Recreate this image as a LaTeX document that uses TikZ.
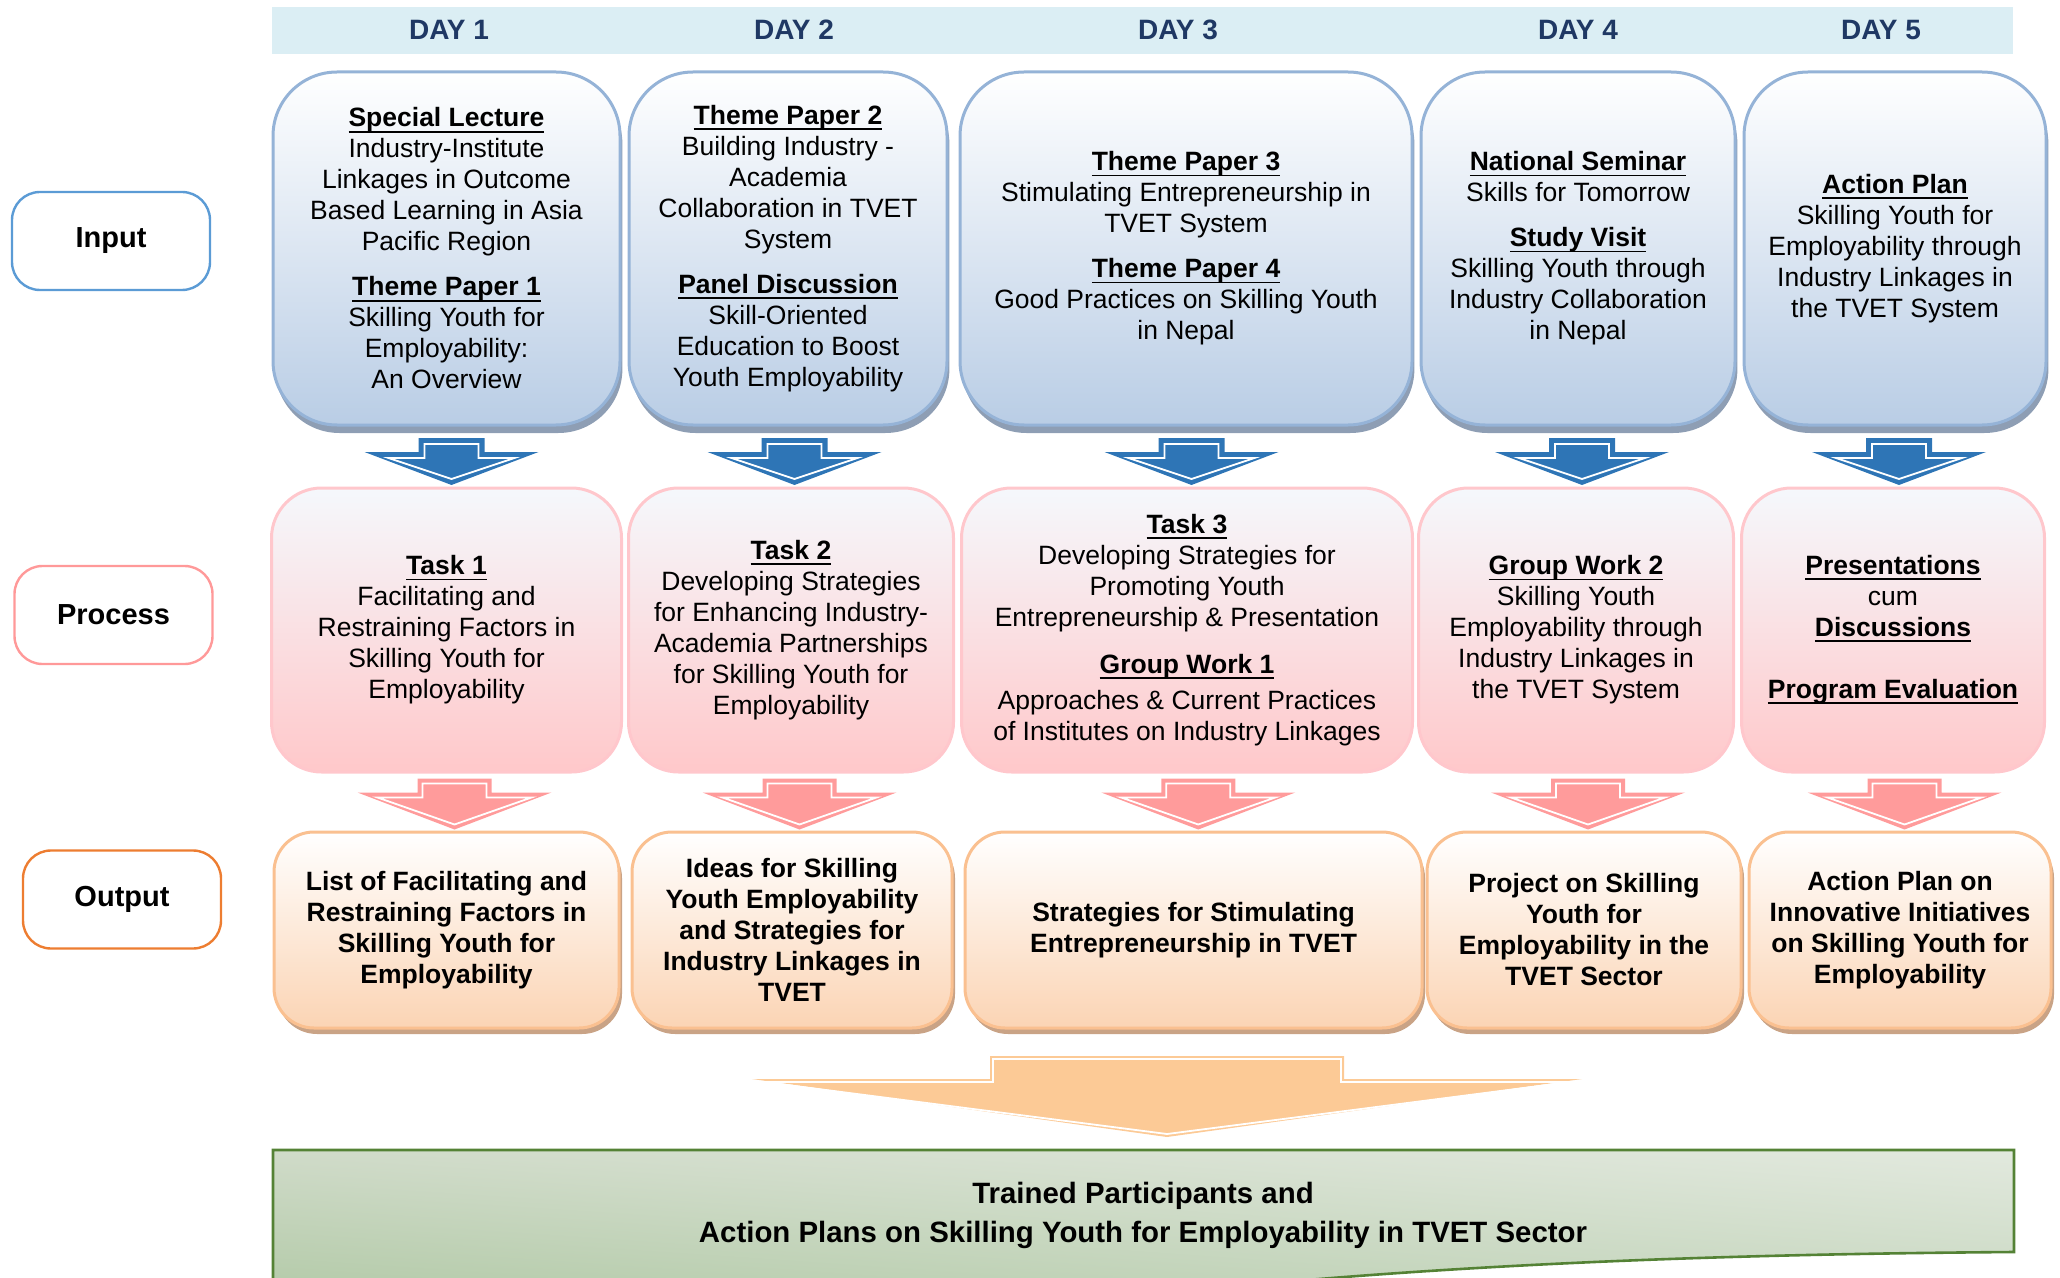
\documentclass[tikz,border=0pt]{standalone}
\usepackage{fontspec}
\setmainfont{Liberation Sans}
\usetikzlibrary{positioning,calc,shadows,shadings}

\definecolor{dayBand}{RGB}{219,238,244}
\definecolor{dayText}{RGB}{31,56,100}
\definecolor{lblIn}{RGB}{91,155,213}
\definecolor{lblPr}{RGB}{255,153,153}
\definecolor{lblOut}{RGB}{237,125,49}
\definecolor{inEdge}{RGB}{149,179,215}
\definecolor{inFill}{RGB}{185,205,229}
\definecolor{inShade}{RGB}{142,158,180}
\definecolor{prEdge}{RGB}{255,199,204}
\definecolor{prTop}{RGB}{245,248,252}
\definecolor{prFill}{RGB}{255,200,202}
\definecolor{outEdge}{RGB}{250,192,144}
\definecolor{outFill}{RGB}{251,212,180}
\definecolor{outShade}{RGB}{201,163,134}
\definecolor{arrBlue}{RGB}{46,117,182}
\definecolor{arrPink}{RGB}{255,155,155}
\definecolor{arrPeach}{RGB}{252,202,150}
\definecolor{goalEdge}{RGB}{84,130,53}
\definecolor{goalUL}{RGB}{208,219,201}
\definecolor{goalUR}{RGB}{226,233,222}
\definecolor{goalLL}{RGB}{172,198,160}
\definecolor{goalLR}{RGB}{196,213,188}

\newsavebox{\hdbox}
\newcommand{\hd}[1]{\sbox{\hdbox}{\textbf{#1}}\rlap{\rule[-2.8pt]{\wd\hdbox}{0.95pt}}\usebox{\hdbox}}

\begin{document}
\begin{tikzpicture}[x=0.5pt, y=-0.5pt, font=\fontsize{13.25}{15.5}\selectfont,
  daylbl/.style = {text=dayText, font=\fontsize{14}{16}\selectfont\bfseries},
  rowlbl/.style = {draw, line width=1.2pt, fill=white, rounded corners=14pt, minimum width=99pt, minimum height=49pt, font=\fontsize{14.5}{17}\selectfont\bfseries},
  inbox/.style = {draw=inEdge, line width=1.5pt, outer sep=0pt, rounded corners=32pt, top color=white, bottom color=inFill, minimum height=176.5pt, align=center, inner sep=0pt, drop shadow={shadow xshift=1.2pt, shadow yshift=-4pt, fill=inShade, opacity=1}},
  prbox/.style = {draw=prEdge, line width=1.5pt, outer sep=0pt, rounded corners=25pt, top color=prTop, bottom color=prFill, minimum height=142pt, align=center, inner sep=0pt},
  outbox/.style = {draw=outEdge, line width=1.5pt, outer sep=0pt, rounded corners=20pt, top color=white, bottom color=outFill, minimum height=98pt, align=center, inner sep=0pt, font=\fontsize{13.25}{15.5}\selectfont\bfseries, drop shadow={shadow xshift=1.5pt, shadow yshift=-3pt, fill=outShade, opacity=1}},
  goaltxt/.style = {align=center, font=\fontsize{14.7}{19.5}\selectfont\bfseries},
  pics/downarr/.style args={#1/#2/#3/#4/#5/#6}{code={
    \fill[#5] ({-#1},{-#4/2}) -- ({#1},{-#4/2}) -- ({#1},{-#4/2+#3}) -- ({#2},{-#4/2+#3})
      -- (0,{#4/2}) -- ({-#2},{-#4/2+#3}) -- ({-#1},{-#4/2+#3}) -- cycle;
    \draw[white, line width=0.9pt] ({-#1+#6},{-#4/2+#6}) -- ({#1-#6},{-#4/2+#6}) -- ({#1-#6},{-#4/2+#3+#6})
      -- ({#2-4*#6},{-#4/2+#3+#6}) -- (0,{#4/2-#6}) -- ({-#2+4*#6},{-#4/2+#3+#6}) -- ({-#1+#6},{-#4/2+#3+#6}) -- cycle;
  }}]
\useasboundingbox (0,0) rectangle (2060,1278);

% days
\fill[dayBand] (272,7) rectangle (2013,54);
\foreach \d/\x in {1/449,2/794,3/1178,4/1578,5/1881}
  \node[daylbl] (day\d) at (\x,30) {DAY \d};

% row labels
\node[rowlbl, draw=lblIn] (lin) at (111,241) {Input};
\node[rowlbl, draw=lblPr] (lpr) at (113.5,615) {Process};
\node[rowlbl, draw=lblOut] (lout) at (122,899.5) {Output};

% input
\node[inbox, minimum width=173.5pt] (in1) at (446.5,248.5) {\hd{Special Lecture}\\ Industry-Institute\\ Linkages in Outcome\\ Based Learning in Asia\\ Pacific Region\\[7pt] \hd{Theme Paper 1}\\ Skilling Youth for\\ Employability:\\ An Overview};
\node[inbox, minimum width=159pt, right=4.5pt of in1] (in2) {\hd{Theme Paper 2}\\ Building Industry -\\ Academia\\ Collaboration in TVET\\ System\\[7pt] \hd{Panel Discussion}\\ Skill-Oriented\\ Education to Boost\\ Youth Employability};
\node[inbox, minimum width=226pt, right=6.5pt of in2] (in3) {\hd{Theme Paper 3}\\ Stimulating Entrepreneurship in\\ TVET System\\[7pt] \hd{Theme Paper 4}\\ Good Practices on Skilling Youth\\ in Nepal};
\node[inbox, minimum width=157pt, right=4.5pt of in3] (in4) {\hd{National Seminar}\\ Skills for Tomorrow\\[7pt] \hd{Study Visit}\\ Skilling Youth through\\ Industry Collaboration\\ in Nepal};
\node[inbox, minimum width=151pt, right=4.5pt of in4] (in5) {\hd{Action Plan}\\ Skilling Youth for\\ Employability through\\ Industry Linkages in\\ the TVET System};

% process
\node[prbox, minimum width=175pt, below=31.5pt of in1] (pr1) {\hd{Task 1}\\ Facilitating and\\ Restraining Factors in\\ Skilling Youth for\\ Employability};
\node[prbox, minimum width=162.5pt, right=3.5pt of pr1] (pr2) {\hd{Task 2}\\ Developing Strategies\\ for Enhancing Industry-\\ Academia Partnerships\\ for Skilling Youth for\\ Employability};
\node[prbox, minimum width=225.5pt, right=4pt of pr2] (pr3) {\hd{Task 3}\\ Developing Strategies for\\ Promoting Youth\\ Entrepreneurship \& Presentation\\[8pt] \hd{Group Work 1}\\[2.5pt] Approaches \& Current Practices\\ of Institutes on Industry Linkages};
\node[prbox, minimum width=157.5pt, right=3pt of pr3] (pr4) {\hd{Group Work 2}\\ Skilling Youth\\ Employability through\\ Industry Linkages in\\ the TVET System};
\node[prbox, minimum width=151.5pt, right=4pt of pr4] (pr5) {\hd{Presentations}\\ cum\\ \hd{Discussions}\\[15.5pt] \hd{Program Evaluation}};

% output
\node[outbox, minimum width=172.5pt, below=30pt of pr1] (out1) {List of Facilitating and\\ Restraining Factors in\\ Skilling Youth for\\ Employability};
\node[outbox, minimum width=160pt, right=6.5pt of out1] (out2) {Ideas for Skilling\\ Youth Employability\\ and Strategies for\\ Industry Linkages in\\ TVET};
\node[outbox, minimum width=228.5pt, right=6.5pt of out2] (out3) {Strategies for Stimulating\\ Entrepreneurship in TVET};
\node[outbox, minimum width=157pt, right=2.5pt of out3] (out4) {Project on Skilling\\ Youth for\\ Employability in the\\ TVET Sector};
\node[outbox, minimum width=151pt, right=4pt of out4] (out5) {Action Plan on\\ Innovative Initiatives\\ on Skilling Youth for\\ Employability};

% block arrows
\foreach \i in {1,...,5} {
  \pic at ($(in\i.south)!.5!(pr\i.north)+(5,5)$) {downarr=33/87/14/47/arrBlue/6};
  \pic at ($(pr\i.south)!.5!(out\i.north)+(8,2)$) {downarr=37/97/14/51/arrPink/5};
}

% result
\begin{scope}
  \clip (0,0) rectangle (2060,1278);
  \path[draw=goalEdge, line width=1.3pt,
    upper left=goalUL, upper right=goalUR, lower left=goalLL, lower right=goalLR]
    (273,1150) -- (2014,1150) -- (2014,1252) .. controls (1750,1254) and (1500,1262) .. (1250,1285)
    -- (273,1330) -- cycle;
\end{scope}
\node[goaltxt] (goal) at (1143,1215) {Trained Participants and\\ Action Plans on Skilling Youth for Employability in TVET Sector};
\pic at (1167,1096.5) {downarr=177/415/23/81/arrPeach/3};
\end{tikzpicture}
\end{document}
